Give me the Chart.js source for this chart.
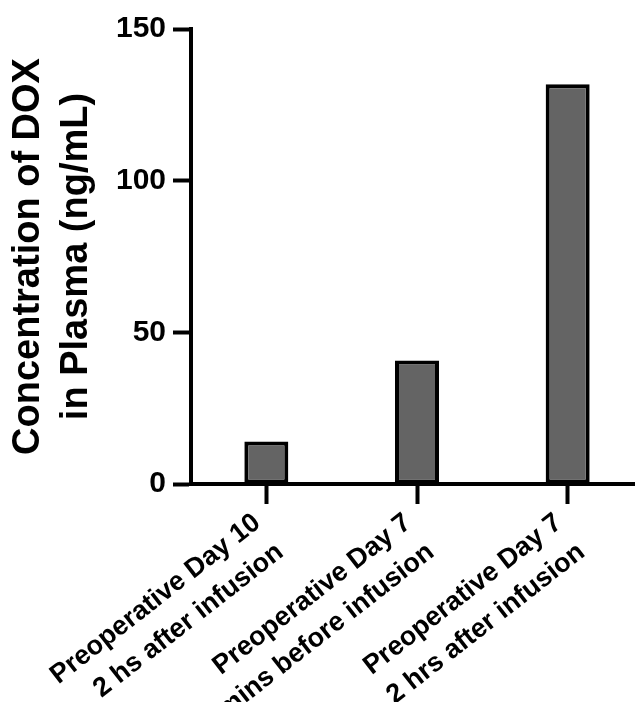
<!DOCTYPE html>
<html>
<head>
<meta charset="utf-8">
<script src="https://cdn.jsdelivr.net/npm/chart.js@4.4.1/dist/chart.umd.min.js"></script>
<style>
  html, body { margin: 0; padding: 0; overflow: hidden; background: #fff; }
  #wrap { position: absolute; left: 0; top: 0; width: 643px; height: 702px; }
</style>
</head>
<body>
<div id="wrap"><canvas id="c"></canvas></div>
<script>
const categories = [
  ['Preoperative Day 10', '2 hs after infusion'],
  ['Preoperative Day 7', '30 mins before infusion'],
  ['Preoperative Day 7', '2 hrs after infusion']
];
const concentrations = [14.0, 40.7, 131.8];
const yTicks = [0, 50, 100, 150];
const yTitle = ['Concentration of DOX', 'in Plasma (ng/mL)'];

const FONT = '"Liberation Sans", Arial, Helvetica, sans-serif';

new Chart(document.getElementById('c'), {
  type: 'bar',
  data: {
    labels: categories,
    datasets: [{
      data: concentrations,
      backgroundColor: '#646464',
      borderColor: '#000000',
      borderWidth: 4,
      borderSkipped: false,
      barPercentage: 0.292,
      categoryPercentage: 1.0
    }]
  },
  options: {
    responsive: true,
    maintainAspectRatio: false,
    animation: false,
    layout: { padding: { top: 29, left: 0, right: 0, bottom: 0 } },
    plugins: { legend: { display: false }, tooltip: { enabled: false } },
    scales: {
      x: {
        offset: true,
        grid: {
          offset: false,
          drawOnChartArea: false,
          drawTicks: true,
          tickLength: 20,
          tickWidth: 4,
          tickColor: '#000000'
        },
        border: { display: true, color: '#000000', width: 4, z: 1 },
        ticks: {
          color: '#000000',
          font: { family: FONT, size: 27, weight: 'bold', lineHeight: 1.38 },
          minRotation: 38,
          maxRotation: 38,
          autoSkip: false,
          padding: 1,
          labelOffset: -9
        },
        afterFit: (s) => { s.height = 218; }
      },
      y: {
        min: 0,
        max: 150,
        afterBuildTicks: (s) => { s.ticks = yTicks.map(v => ({ value: v })); },
        grid: {
          drawOnChartArea: false,
          drawTicks: true,
          tickLength: 18,
          tickWidth: 4,
          tickColor: '#000000'
        },
        border: { display: true, color: '#000000', width: 4, z: 1 },
        ticks: {
          color: '#000000',
          font: { family: FONT, size: 30, weight: 'bold' },
          padding: 7
        },
        title: {
          display: true,
          text: yTitle,
          color: '#000000',
          font: { family: FONT, size: 38, weight: 'bold', lineHeight: 1.26 },
          padding: { top: 5, bottom: 0 }
        },
        afterFit: (s) => { s.width = 191; }
      }
    }
  }
});
</script>
</body>
</html>
